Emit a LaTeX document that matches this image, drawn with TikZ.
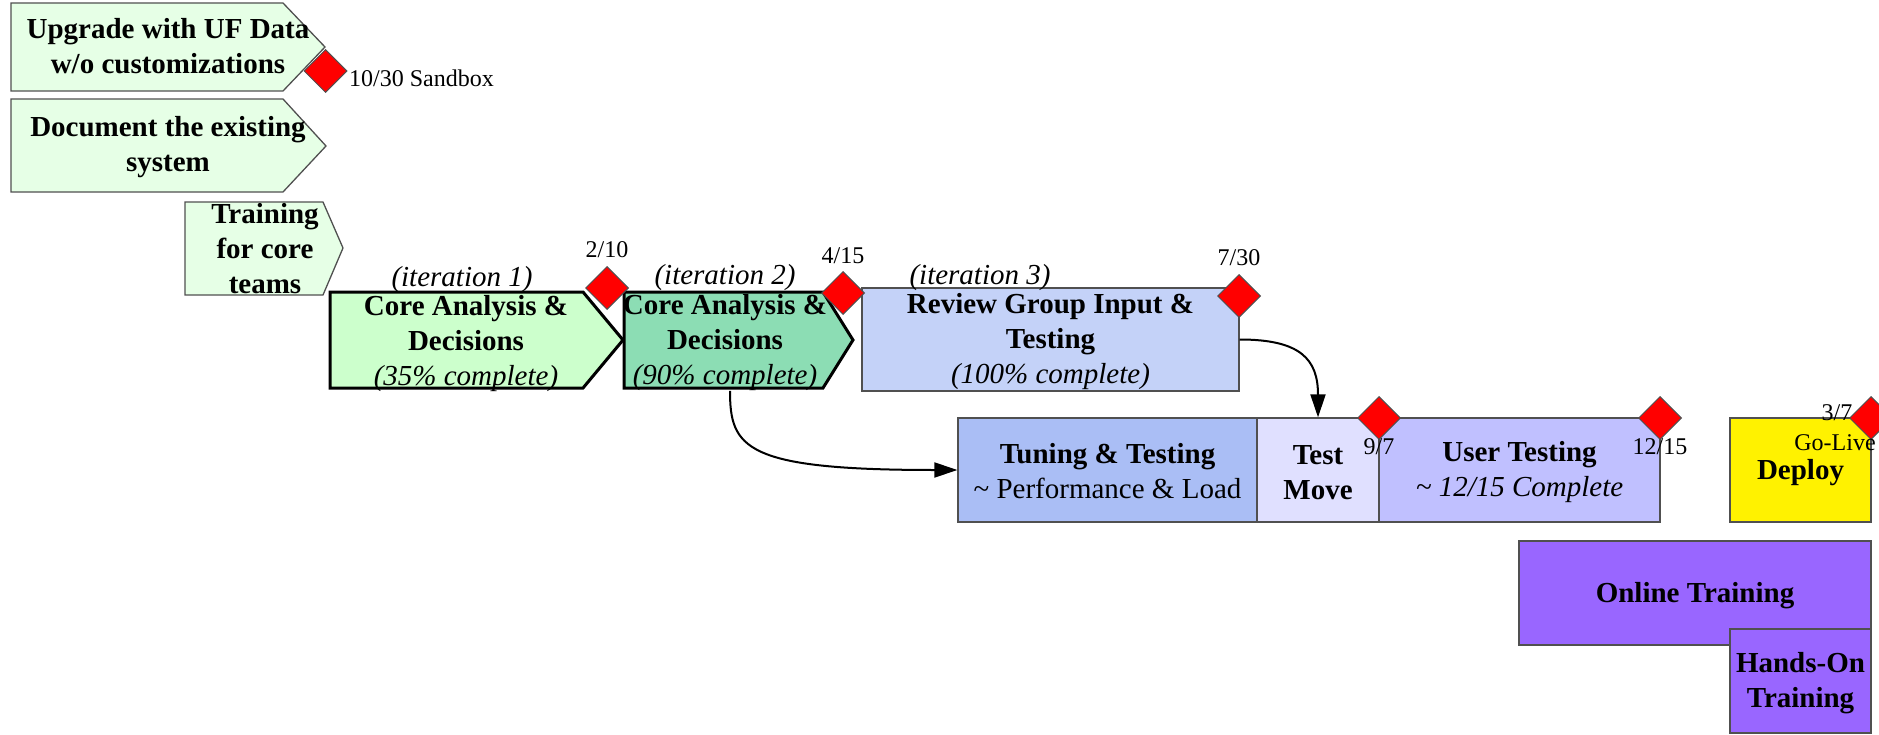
\documentclass[tikz,border=0pt]{standalone}
\usepackage{fontspec}
\setmainfont{Liberation Serif}
\usepackage{tikz}
\usetikzlibrary{arrows.meta, shapes.geometric}
\pgfmathsetmacro{\dsz}{43}

\definecolor{paleg}{RGB}{230,255,230}
\definecolor{coreA}{RGB}{204,255,204}
\definecolor{coreB}{RGB}{140,221,180}
\definecolor{revblue}{RGB}{196,210,248}
\definecolor{tunblue}{RGB}{170,190,245}
\definecolor{movblue}{RGB}{224,224,255}
\definecolor{usrblue}{RGB}{192,192,255}
\definecolor{trnviol}{RGB}{153,102,255}
\definecolor{edge}{RGB}{80,80,80}

\tikzset{
  txt/.style={font=\fontsize{29bp}{35bp}\selectfont\bfseries, align=center, inner sep=0pt},
  ital/.style={font=\fontsize{29bp}{35bp}\selectfont\itshape, inner sep=0pt},
  tiny/.style={font=\fontsize{24bp}{29bp}\selectfont, inner sep=0pt},
  task/.style={txt, draw=edge, line width=1.3bp},
  phase/.style={draw=edge, line width=1.3bp, fill=paleg},
  iter/.style={draw=black, line width=3bp},
  mile/.style={diamond, draw=edge, line width=1bp, fill=red, minimum width=\dsz bp, minimum height=\dsz bp, inner sep=0pt},
  flow/.style={line width=2bp, arrows={-Triangle[length=23bp, width=15bp]}}
}

\begin{document}
\begin{tikzpicture}[x=1bp, y=-1bp]
	\useasboundingbox (0,0) rectangle (1879,735);
	% early phases
	\draw[phase] (11,3) -- (283,3) -- (325,47) -- (283,91) -- (11,91) -- cycle;
	\node[txt] (upg) at (168,46) {Upgrade with UF Data\\w/o customizations};
	\draw[phase] (11,99) -- (283,99) -- (326,146) -- (283,192) -- (11,192) -- cycle;
	\node[txt] (doc) at (168,147.5) {Document the existing\\system};
	\draw[phase] (185,202) -- (323,202) -- (343,248) -- (323,295) -- (185,295) -- cycle;
	\node[txt] (trn) at (265,249) {Training\\for core\\teams};
	% iterations
	\draw[iter, fill=coreA] (330,292) -- (583,292) -- (623,340) -- (583,388) -- (330,388) -- cycle;
	\node[txt] (c1) at (466,343.5) {Core Analysis \&\\Decisions\\{\mdseries\itshape (35\% complete)}};
	\node[ital] (it1) at (462,280) {(iteration 1)};
	\draw[iter, fill=coreB] (624,292) -- (823,292) -- (853,340) -- (823,388) -- (624,388) -- cycle;
	\node[txt, minimum height=91bp] (c2) at (725,342.5) {Core Analysis \&\\Decisions\\{\mdseries\itshape (90\% complete)}};
	\node[ital] (it2) at (725,277.5) {(iteration 2)};
	\node[task, fill=revblue, minimum width=377bp, minimum height=103bp, text height=95bp] (rev) at (1050.5,339.5) {Review Group Input \&\\Testing\\{\mdseries\itshape (100\% complete)}};
	\node[ital] (it3) at (980,277.5) {(iteration 3)};
	% testing and rollout
	\node[task, fill=tunblue, minimum width=299bp, minimum height=104bp, text height=57bp] (tun) at (1107.5,470) {Tuning \& Testing\\{\mdseries\textasciitilde{} Performance \& Load}};
	\node[task, fill=movblue, minimum width=122bp, minimum height=104bp, text height=59bp] (tmv) at (1318,470) {Test\\Move};
	\node[task, fill=usrblue, minimum width=281bp, minimum height=104bp, text height=60bp] (ust) at (1519.5,470) {User Testing\\{\mdseries\itshape \textasciitilde{} 12/15 Complete}};
	\node[task, fill=yellow, minimum width=141bp, minimum height=104bp, text height=26bp] (dep) at (1800.5,470) {Deploy};
	\node[task, fill=trnviol, minimum width=352bp, minimum height=104bp, text height=26bp] (onl) at (1695,593) {Online Training};
	\node[task, fill=trnviol, minimum width=141bp, minimum height=104bp, text height=60bp] (hon) at (1800.5,681) {Hands-On\\Training};
	\draw[flow] ([xshift=5bp]c2.south) .. controls +(0,57) and +(-213,0) .. (tun.west);
	\draw[flow] (rev.east) .. controls +(61,0) and +(0,-58) .. (tmv.north);
	% milestones
	\node[tiny] (d37) at (1837,413) {3/7};
	\node[mile] (m1) at (325.5,71) {};
	\node[mile] (m2) at (607,288) {};
	\node[mile] (m3) at (843,293) {};
	\node[mile] (m4) at (1239,296) {};
	\node[mile] (m5) at (1379,418) {};
	\node[mile] (m6) at (1660,418) {};
	\node[mile] (m7) at (1871,418) {};
	\node[tiny, anchor=west] (d1030) at (349,78) {10/30 Sandbox};
	\node[tiny] (d210) at (607,250) {2/10};
	\node[tiny] (d415) at (843,256) {4/15};
	\node[tiny] (d730) at (1239,258) {7/30};
	\node[tiny] (d97) at (1379,447) {9/7};
	\node[tiny] (d1215) at (1660,447) {12/15};
	\node[tiny] (golive) at (1835,443) {Go-Live};
\end{tikzpicture}
\end{document}
